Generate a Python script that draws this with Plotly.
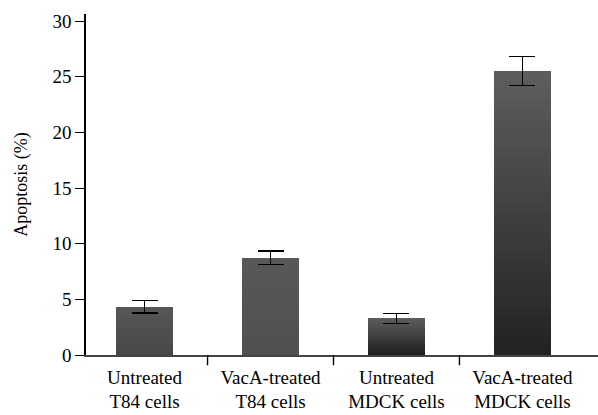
import plotly.graph_objects as go

categories = ["Untreated<br>T84 cells", "VacA-treated<br>T84 cells",
              "Untreated<br>MDCK cells", "VacA-treated<br>MDCK cells"]
apoptosis = [4.35, 8.72, 3.28, 25.5]
apoptosis_err = [0.55, 0.6, 0.45, 1.3]
y_ticks = [0, 5, 10, 15, 20, 25, 30]

# gradient colours (top, bottom) per bar, as RGB grey levels
top_grey = [0x57, 0x58, 0x5c, 0x5e]
bottom_grey = [0x47, 0x50, 0x1f, 0x22]

N = 30
fig = go.Figure()
for k in range(N):
    frac_top = (N - k) / N
    frac_mid = (N - k - 0.5) / N
    heights = [v * frac_top for v in apoptosis]
    cols = []
    for t, b in zip(top_grey, bottom_grey):
        g = int(round(b + (t - b) * frac_mid))
        cols.append(f"rgb({g},{g},{g})")
    fig.add_trace(go.Bar(x=categories, y=heights, width=0.45,
                         marker=dict(color=cols, line=dict(width=0)),
                         showlegend=False, hoverinfo="skip"))

fig.add_trace(go.Bar(x=categories, y=apoptosis, width=0.45,
                     marker=dict(color="rgba(0,0,0,0)", line=dict(width=0)),
                     error_y=dict(type="data", array=apoptosis_err, visible=True,
                                  color="black", thickness=1.6, width=13),
                     showlegend=False))

shapes = []
for i in range(len(categories) - 1):
    shapes.append(dict(type="line", xref="x", yref="paper",
                       x0=i + 0.5, x1=i + 0.5, y0=0, y1=-0.03,
                       line=dict(color="black", width=1.4)))

fig.update_layout(
    width=598, height=415,
    barmode="overlay",
    bargap=0,
    plot_bgcolor="white", paper_bgcolor="white",
    margin=dict(l=86, r=0, t=14, b=60, autoexpand=False),
    font=dict(family="Liberation Serif", color="black", size=19),
    shapes=shapes,
    xaxis=dict(type="category", range=[-0.465, 3.6],
               showline=True, linecolor="#444", linewidth=1.6,
               ticks="outside", ticklen=4, tickcolor="rgba(0,0,0,0)",
               tickfont=dict(size=19), showgrid=False, zeroline=False,
               automargin=False),
    yaxis=dict(range=[0, 30.63], tickvals=y_ticks,
               showline=True, linecolor="black", linewidth=1.5,
               ticks="outside", ticklen=9, tickwidth=1.4, tickcolor="black",
               tickfont=dict(size=19), showgrid=False, zeroline=False,
               title=dict(text="Apoptosis (%)", font=dict(size=18), standoff=20),
               automargin=False),
)

fig.write_html("out.html", config={"displayModeBar": False},
               post_script="document.body.style.margin='0';document.body.style.padding='0';")
